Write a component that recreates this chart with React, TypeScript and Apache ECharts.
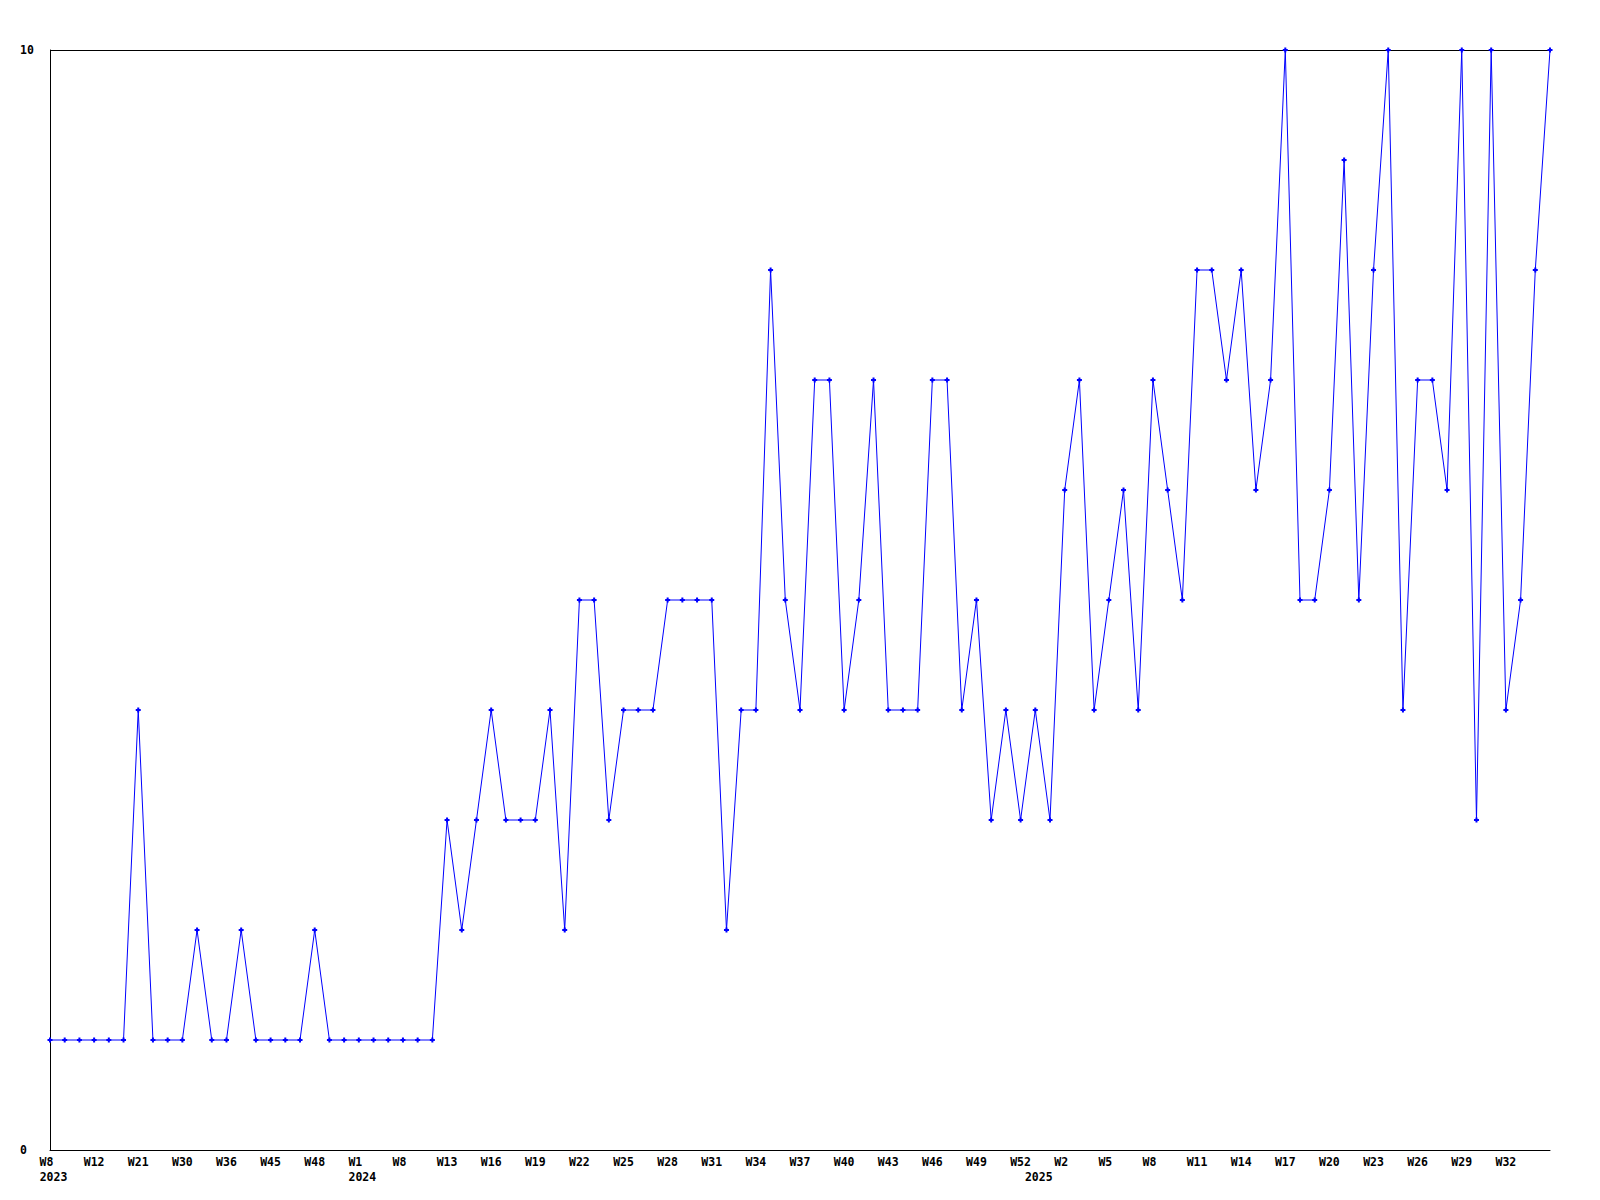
import React, { useEffect, useRef } from "react";
import * as echarts from "echarts";

// one value per weekly point
const values = [
  1, 1, 1, 1, 1, 1, 4, 1, 1, 1,
  2, 1, 1, 2, 1, 1, 1, 1, 2, 1,
  1, 1, 1, 1, 1, 1, 1, 3, 2, 3,
  4, 3, 3, 3, 4, 2, 5, 5, 3, 4,
  4, 4, 5, 5, 5, 5, 2, 4, 4, 8,
  5, 4, 7, 7, 4, 5, 7, 4, 4, 4,
  7, 7, 4, 5, 3, 4, 3, 4, 3, 6,
  7, 4, 5, 6, 4, 7, 6, 5, 8, 8,
  7, 8, 6, 7, 10, 5, 5, 6, 9, 5,
  8, 10, 4, 7, 7, 6, 10, 3, 10, 4,
  5, 8, 10,
];

// week labels shown on every third point
const weekLabels = [
  "W8", "W12", "W21", "W30", "W36", "W45", "W48", "W1", "W8", "W13",
  "W16", "W19", "W22", "W25", "W28", "W31", "W34", "W37", "W40", "W43",
  "W46", "W49", "W52", "W2", "W5", "W8", "W11", "W14", "W17", "W20",
  "W23", "W26", "W29", "W32",
];

// year labels and the point index they sit under
const yearIndex = [0, 21, 67];
const yearLabels = ["2023", "2024", "2025"];

const yMin = 0;
const yMax = 10;

export default function App() {
  const ref = useRef<HTMLDivElement>(null);

  useEffect(() => {
    document.body.style.margin = "0";
    const chart = echarts.init(ref.current as HTMLDivElement, null, { renderer: "svg" });
    const cats = values.map((_, i) => String(i));
    const font = {
      fontFamily: "DejaVu Sans Mono",
      fontWeight: "bold" as const,
      fontSize: 11.5,
      color: "#000",
    };
    chart.setOption({
      animation: false,
      backgroundColor: "#ffffff",
      grid: { left: 50, right: 50, top: 50, bottom: 50, containLabel: false },
      xAxis: {
        type: "category",
        data: cats,
        boundaryGap: false,
        axisLine: { show: true, lineStyle: { color: "#000", width: 1 } },
        axisTick: { show: false },
        splitLine: { show: false },
        axisLabel: {
          interval: (idx: number) => idx % 3 === 0 || yearIndex.includes(idx),
          margin: 4,
          ...font,
          lineHeight: 15,
          formatter: (v: string) => {
            const i = parseInt(v, 10);
            let line1 = "{w3| }";
            if (i % 3 === 0 && weekLabels[i / 3] !== undefined) {
              const lab = weekLabels[i / 3];
              line1 = `{w${lab.length}|${lab}}`;
            }
            const yi = yearIndex.indexOf(i);
            if (yi >= 0) return `${line1}\n{y|${yearLabels[yi]}}`;
            return line1;
          },
          rich: {
            w2: { ...font, lineHeight: 15, padding: [0, 7, 0, 0] },
            w3: { ...font, lineHeight: 15 },
            y: { ...font, lineHeight: 15, padding: [0, 0, 0, 7] },
          },
        },
      },
      yAxis: {
        type: "value",
        min: yMin,
        max: yMax,
        interval: 10,
        axisLine: { show: true, lineStyle: { color: "#000", width: 1 } },
        axisTick: { show: false },
        splitLine: { show: true, lineStyle: { color: "#000", width: 1 } },
        axisLabel: { ...font, align: "left", margin: 30 },
      },
      series: [
        {
          type: "line",
          data: values,
          lineStyle: { color: "#0000ff", width: 1 },
          itemStyle: { color: "#0000ff" },
          symbol: "path://M1.5 0H3.5V1.5H5V3.5H3.5V5H1.5V3.5H0V1.5H1.5Z",
          symbolSize: 5,
          showSymbol: true,
          showAllSymbol: true,
        },
      ],
    });
    return () => chart.dispose();
  }, []);

  return (
    <div
      ref={ref}
      style={{ position: "absolute", left: 0, top: 0, width: 1600, height: 1200, background: "#fff" }}
    />
  );
}
